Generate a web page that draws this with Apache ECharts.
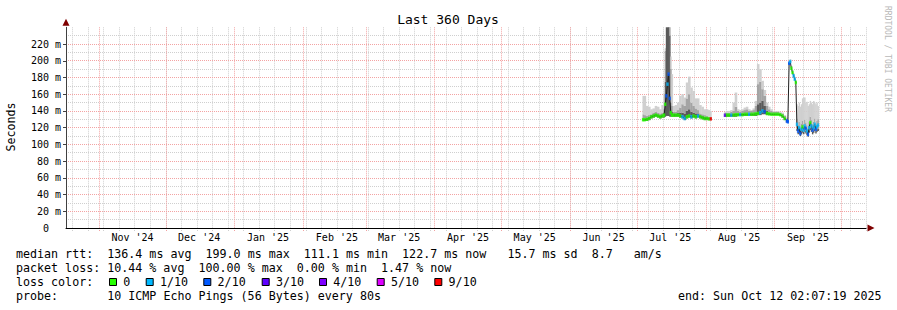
<!DOCTYPE html>
<html><head><meta charset="utf-8">
<script src="https://cdn.jsdelivr.net/npm/echarts@6/dist/echarts.min.js"></script>
<style>html,body{margin:0;padding:0;background:#fff}#c{width:897px;height:310px}</style>
</head><body><div id="c"></div>
<script>
// ---------- data ----------
const times = [
 '2025-07-03 18:00','2025-07-04 12:00','2025-07-05 12:00','2025-07-06 12:00','2025-07-07 12:00','2025-07-08 12:00',
 '2025-07-09 12:00','2025-07-10 12:00','2025-07-11 12:00','2025-07-12 12:00','2025-07-13 06:00','2025-07-13 18:00',
 '2025-07-14 06:00','2025-07-14 18:00','2025-07-15 06:00','2025-07-15 18:00','2025-07-16 06:00','2025-07-16 18:00',
 '2025-07-17 12:00','2025-07-18 12:00','2025-07-19 12:00','2025-07-20 12:00','2025-07-21 12:00','2025-07-22 12:00',
 '2025-07-23 12:00','2025-07-24 12:00','2025-07-25 12:00','2025-07-26 12:00','2025-07-27 12:00','2025-07-28 12:00',
 '2025-07-29 12:00','2025-07-30 12:00','2025-07-31 12:00','2025-08-01 12:00','2025-08-02 12:00','2025-08-03 06:00',
 '2025-08-06 12:00',
 '2025-08-09 14:00','2025-08-10 12:00','2025-08-11 12:00','2025-08-12 12:00','2025-08-13 12:00','2025-08-14 12:00',
 '2025-08-15 12:00','2025-08-16 12:00','2025-08-17 12:00','2025-08-18 12:00','2025-08-19 12:00','2025-08-20 12:00',
 '2025-08-21 12:00','2025-08-22 12:00','2025-08-23 12:00','2025-08-24 12:00','2025-08-25 12:00','2025-08-26 12:00',
 '2025-08-27 12:00','2025-08-28 12:00','2025-08-29 12:00','2025-08-30 12:00','2025-08-31 12:00','2025-09-01 12:00',
 '2025-09-02 12:00','2025-09-03 12:00','2025-09-04 12:00','2025-09-05 12:00','2025-09-06 12:00','2025-09-06 22:00',
 '2025-09-07 12:00','2025-09-08 00:00','2025-09-08 12:00','2025-09-09 00:00','2025-09-09 12:00','2025-09-10 00:00',
 '2025-09-10 12:00','2025-09-11 00:00','2025-09-11 12:00','2025-09-12 00:00','2025-09-12 12:00','2025-09-13 00:00',
 '2025-09-13 12:00','2025-09-14 00:00','2025-09-14 12:00','2025-09-15 00:00','2025-09-15 12:00','2025-09-16 00:00',
 '2025-09-16 12:00','2025-09-17 00:00','2025-09-17 12:00','2025-09-18 00:00','2025-09-18 12:00','2025-09-19 00:00',
 '2025-09-19 12:00','2025-09-20 00:00','2025-09-20 12:00'
];
// median rtt (ms)
const median = [
 129.5,129.5,130,131,133,134, 135,134,133,134,135,148, 158,172,184,155,138,135,
 135,135,135,134,133,131, 133,134,133,134,133,134, 133,132,131,131,130.5,130.5,
 null,
 134.8,135,135,135,135,135.5, 135.5,135.5,135.5,136,136,136, 136,136,136.5,137,138,140,
 139,137,136.5,136,136,136, 136,135.5,134,131,128,127, 197,199,191,186,182,178,
 174,124,116,120,113,118, 121,117,122,119,116,112, 120,126,122,117,120,124, 118,121,123
];
// smoke: lowest ping, top of dark band, top of mid band, highest ping (ms)
const smokeLo = [
 128,128,128,129,131,132, 133,132,131,132,132,133, 134,134,134,133,133,133,
 133,133,133,132,131,129, 131,132,131,132,131,132, 131,130,129,129,129,129,
 null,
 133,133,133,133,133,133, 134,134,134,134,134,134, 134,134,134,135,135,136,
 136,135,135,135,135,135, 135,134,132,129,126,126, 196,198,190,185,181,177,
 173,116,112,113,110,112, 114,112,115,113,111,109, 114,117,115,112,114,116, 113,115,116
];
const smokeDark = [
 131,131,132,133,135,136, 137,136,135,136,138,175, 245,245,245,230,150,139,
 137,137,138,138,138,137, 140,142,139,138,137,137, 135,134,133,133,132,132,
 null,
 136,136,136,136,137,137, 137,137,137,137,137,137, 137,137,138,148,150,152,
 146,140,138,137,137,137, 137,136,135,132,129,128, 198,200,192,187,183,179,
 175,119,115,116,113,115, 117,115,118,116,114,112, 117,120,118,115,117,119, 116,118,119
];
const smokeMid = [
 136,135,134,135,136,138, 139,138,137,138,142,212, 245,245,245,245,190,146,
 139,139,141,144,148,146, 155,160,150,146,143,141, 137,136,135,134,133,133,
 null,
 138,138,138,139,140,145, 140,139,140,141,142,140, 140,141,146,172,175,166,
 158,146,142,140,139,139, 139,138,137,134,131,129, 199,201,193,188,184,180,
 176,131,123,127,120,125, 128,124,129,126,123,119, 127,133,129,124,127,131, 125,128,130
];
const smokeHi = [
 158,158,146,145,142,143, 146,145,142,147,160,215, 245,245,245,245,205,184,
 146,147,150,158,160,156, 174,181,168,164,155,155, 147,145,142,142,141,140,
 null,
 139,140,140,141,150,162, 142,141,142,144,145,142, 141,143,152,196,190,176,
 165,150,145,142,140,140, 140,139,138,135,132,131, 200,202,194,189,185,181,
 177,148,146,150,145,148, 155,156,156,150,151,146, 148,152,150,148,152,150, 148,150,146
];
// lost pings out of 10 for each median value
const lossTenths = [
 0,0,0,0,0,0, 0,0,0,0,0,0, 2,1,2,2,0,0,
 0,0,0,0,1,1, 0,0,1,0,0,1, 0,0,0,0,0,9,
 null,
 3,0,0,1,0,0, 0,1,0,0,0,1, 0,0,0,0,1,1,
 2,0,0,0,0,0, 0,0,0,0,2,2, 2,1,0,0,1,1,
 0,1,2,1,2,1, 0,1,1,2,1,2, 1,0,1,2,1,1, 2,1,1
];

const yLabelTicks = [0,20,40,60,80,100,120,140,160,180,200,220];
const yMajorGrid = [20,40,60,80,100,120,140,160,180,200,220];
const yMinorGrid = [10,20,30,40,50,60,70,80,90,100,110,120,130,140,150,160,170,180,190,200,210,220,230];
const monthStarts = ['2024-11-01','2024-12-01','2025-01-01','2025-02-01','2025-03-01','2025-04-01',
  '2025-05-01','2025-06-01','2025-07-01','2025-08-01','2025-09-01','2025-10-01'];
const monthLabels = ["Nov '24","Dec '24","Jan '25","Feb '25","Mar '25","Apr '25","May '25","Jun '25","Jul '25","Aug '25","Sep '25"];
const rangeStart = '2024-10-17 02:07:19';
const rangeEnd = '2025-10-12 02:07:19';

const lossLevels = [['0',0],['1/10',1],['2/10',2],['3/10',3],['4/10',4],['5/10',5],['9/10',9]];
const lossColors = {0:'#26ff00',1:'#00b8ff',2:'#0059ff',3:'#5e00ff',4:'#7e00ff',5:'#dd00ff',9:'#ff0000'};

const legendRtt   = 'median rtt:  136.4 ms avg  199.0 ms max  111.1 ms min  122.7 ms now   15.7 ms sd  8.7   am/s';
const legendLoss  = 'packet loss: 10.44 % avg  100.00 % max  0.00 % min  1.47 % now';
const legendColor = 'loss color:';
const legendProbe = 'probe:       10 ICMP Echo Pings (56 Bytes) every 80s';
const legendEnd   = 'end: Sun Oct 12 02:07:19 2025';

// ---------- helpers ----------
function parseLocal(s){
  const [d, t] = s.split(' ');
  const [Y,M,D] = d.split('-').map(Number);
  const [h,mi,se] = (t||'0:0:0').split(':').map(Number);
  return new Date(Y, M-1, D, h||0, mi||0, se||0).getTime();
}
const t0 = parseLocal(rangeStart), t1 = parseLocal(rangeEnd);
const ts = times.map(parseLocal);
const monthTicks = monthStarts.map(parseLocal);
const labelPos = monthStarts.slice(0, monthLabels.length).map(s => {
  const d = new Date(parseLocal(s)); d.setDate(d.getDate()+15); return d.getTime();
});
const weekTicks = [];
{ const d = new Date(t0); d.setHours(0,0,0,0);
  while (d.getDay() !== 0 || d.getTime() <= t0) d.setDate(d.getDate()+1);
  while (d.getTime() <= t1) { weekTicks.push(d.getTime()); d.setDate(d.getDate()+7); } }

// smoke columns: each sample covers half way to its neighbours
const HALF = 6*3600*1000;
const smokeData = [];
ts.forEach((t,i) => {
  if (smokeLo[i] == null) return;
  const prevOk = i>0 && smokeLo[i-1] != null, nextOk = i<ts.length-1 && smokeLo[i+1] != null;
  const l = prevOk ? (ts[i-1]+t)/2 : t - HALF;
  const r = nextOk ? (ts[i+1]+t)/2 : t + HALF;
  smokeData.push([l, r, smokeLo[i], smokeDark[i], smokeMid[i], smokeHi[i]]);
});
const SMOKE_COLORS = ['#5a5a5a','#a4a4a4','#d0d0d0'];
function renderSmoke(params, api){
  const cs = params.coordSys;
  const tl = api.value(0), tr = api.value(1);
  const v = [api.value(2), api.value(3), api.value(4), api.value(5)];
  const kids = [];
  for (let k=0;k<3;k++){
    if (!(v[k+1] > v[k])) continue;
    const p1 = api.coord([tl, v[k+1]]), p2 = api.coord([tr, v[k]]);
    const rect = echarts.graphic.clipRectByRect(
      {x:p1[0], y:p1[1], width:p2[0]-p1[0]+0.35, height:p2[1]-p1[1]},
      {x:cs.x, y:cs.y, width:cs.width, height:cs.height});
    if (rect) kids.push({type:'rect', shape:rect, style:{fill:SMOKE_COLORS[k]}});
  }
  return {type:'group', children:kids};
}

const FONT = '"DejaVu Sans Mono", monospace';
const CHW = 7.02; // monospace advance at legend size
const baseX = {type:'value', min:t0, max:t1, scale:true, position:'bottom', axisLine:{show:false, onZero:false}, axisTick:{show:false}, axisLabel:{show:false}, splitLine:{show:false}};
const baseY = {type:'value', min:0, max:240, position:'left', axisLine:{show:false, onZero:false}, axisTick:{show:false}, axisLabel:{show:false}, splitLine:{show:false}};
const GREY = '#cfcfcf', RED = '#f3a3a3';

const graphic = [];
const txt = (s, x, y, size, extra) => graphic.push(Object.assign({type:'text', x:x, y:y,
  style:{text:s, font:size+'px '+FONT, fill:'#000', align:'left', verticalAlign:'middle', textAlign:'left', textVerticalAlign:'middle'}}, extra||{}));
graphic.push({type:'text', x:448, y:19, style:{text:'Last 360 Days', font:'13px '+FONT, fill:'#000', align:'center', verticalAlign:'middle', textAlign:'center', textVerticalAlign:'middle'}});
graphic.push({type:'text', x:11, y:127, rotation:Math.PI/2, style:{text:'Seconds', font:'11.6px '+FONT, fill:'#000', align:'center', verticalAlign:'middle', textAlign:'center', textVerticalAlign:'middle'}});
graphic.push({type:'text', x:887, y:59, rotation:-Math.PI/2, style:{text:'RRDTOOL / TOBI OETIKER', font:'8px '+FONT, fill:'#b8b8b8', align:'center', verticalAlign:'middle', textAlign:'center', textVerticalAlign:'middle'}});
// monospace legend rows: each word group placed at its character column
function monoRow(line, x0, y){
  const re = /\S+(?: \S+)*/g; let m;
  while ((m = re.exec(line))) txt(m[0], x0 + m.index*CHW, y, 11.66);
}
monoRow(legendRtt, 16, 254.3);
monoRow(legendLoss, 16, 268.3);
monoRow(legendColor, 16, 282.3);
const sqX = [109,145.7,203.3,261.7,319,376.7,434.3];
lossLevels.forEach(([lab,lv],i) => {
  graphic.push({type:'rect', shape:{x:sqX[i]+0.5, y:278.5, width:7, height:7}, style:{fill:lossColors[lv], stroke:'#000', lineWidth:1}});
  txt(lab, sqX[i]+14.3, 282.3, 11.66);
});
monoRow(legendProbe, 16, 296);
txt(legendEnd, 678, 296, 11.66);

const option = {
  animation:false,
  backgroundColor:'#fff',
  grid:{left:66, right:31, top:27.3, bottom:82, containLabel:false},
  xAxis:[
    Object.assign({}, baseX, {z:3, axisLine:{show:true, onZero:false, lineStyle:{color:'#000', width:1}},
      axisLabel:{show:true, customValues:labelPos, formatter:(v)=>{const k=labelPos.indexOf(+v); return k>=0?monthLabels[k]:'';},
        fontFamily:FONT, fontSize:10, color:'#000', margin:4, hideOverlap:false}}),
    Object.assign({}, baseX, {z:0, axisTick:{show:true, customValues:weekTicks, length:3, lineStyle:{color:GREY, type:[1,1]}},
      splitLine:{show:true, lineStyle:{color:GREY, width:1, type:[1,1]}}}),
    Object.assign({}, baseX, {z:1, axisTick:{show:true, customValues:monthTicks, length:3, lineStyle:{color:RED, type:[1,1]}},
      splitLine:{show:true, lineStyle:{color:RED, width:1, type:[1,1]}}}),
    Object.assign({}, baseX, {z:4, axisLine:{show:true, onZero:false, symbol:['none','triangle'], symbolSize:[7,7], symbolOffset:[0,5], lineStyle:{color:'#7f0000', opacity:0}}})
  ],
  yAxis:[
    Object.assign({}, baseY, {z:3, axisLine:{show:true, onZero:false, lineStyle:{color:'#404040', width:1}},
      axisTick:{show:true, customValues:yMajorGrid, length:3, lineStyle:{color:'#404040'}},
      axisLabel:{show:true, customValues:yLabelTicks, formatter:(v)=> v===0 ? '0  ' : v+' m', fontFamily:FONT, fontSize:10, color:'#000', margin:5}}),
    Object.assign({}, baseY, {z:0, axisTick:{show:false, customValues:yMinorGrid}, splitLine:{show:true, lineStyle:{color:GREY, width:1, type:[1,1]}}}),
    Object.assign({}, baseY, {z:1, axisTick:{show:false, customValues:yMajorGrid}, splitLine:{show:true, lineStyle:{color:RED, width:1, type:[1,1]}}}),
    Object.assign({}, baseY, {z:4, axisLine:{show:true, onZero:false, symbol:['none','triangle'], symbolSize:[7,7], symbolOffset:[0,5], lineStyle:{color:'#7f0000', opacity:0}}})
  ],
  series:[
    {type:'custom', name:'smoke', renderItem:renderSmoke, data:smokeData, silent:true, z:2,
      encode:{x:[0,1], y:[2,3,4,5]}},
    {type:'line', name:'median', data:ts.map((t,i)=>[t, median[i]]), showSymbol:false, silent:true, connectNulls:false, z:5,
      lineStyle:{color:'#202020', width:1}},
    {type:'scatter', name:'loss', silent:true, z:6, symbol:'rect', symbolSize:[2.3,3.5],
      data: ts.map((t,i)=> median[i]==null ? null : {value:[t, median[i]], itemStyle:{color:lossColors[lossTenths[i]]}}).filter(d=>d)}
  ],
  graphic: graphic
};
const chart = echarts.init(document.getElementById('c'), null, {renderer:'svg', width:897, height:310});
chart.setOption(option);
</script>
</body></html>
